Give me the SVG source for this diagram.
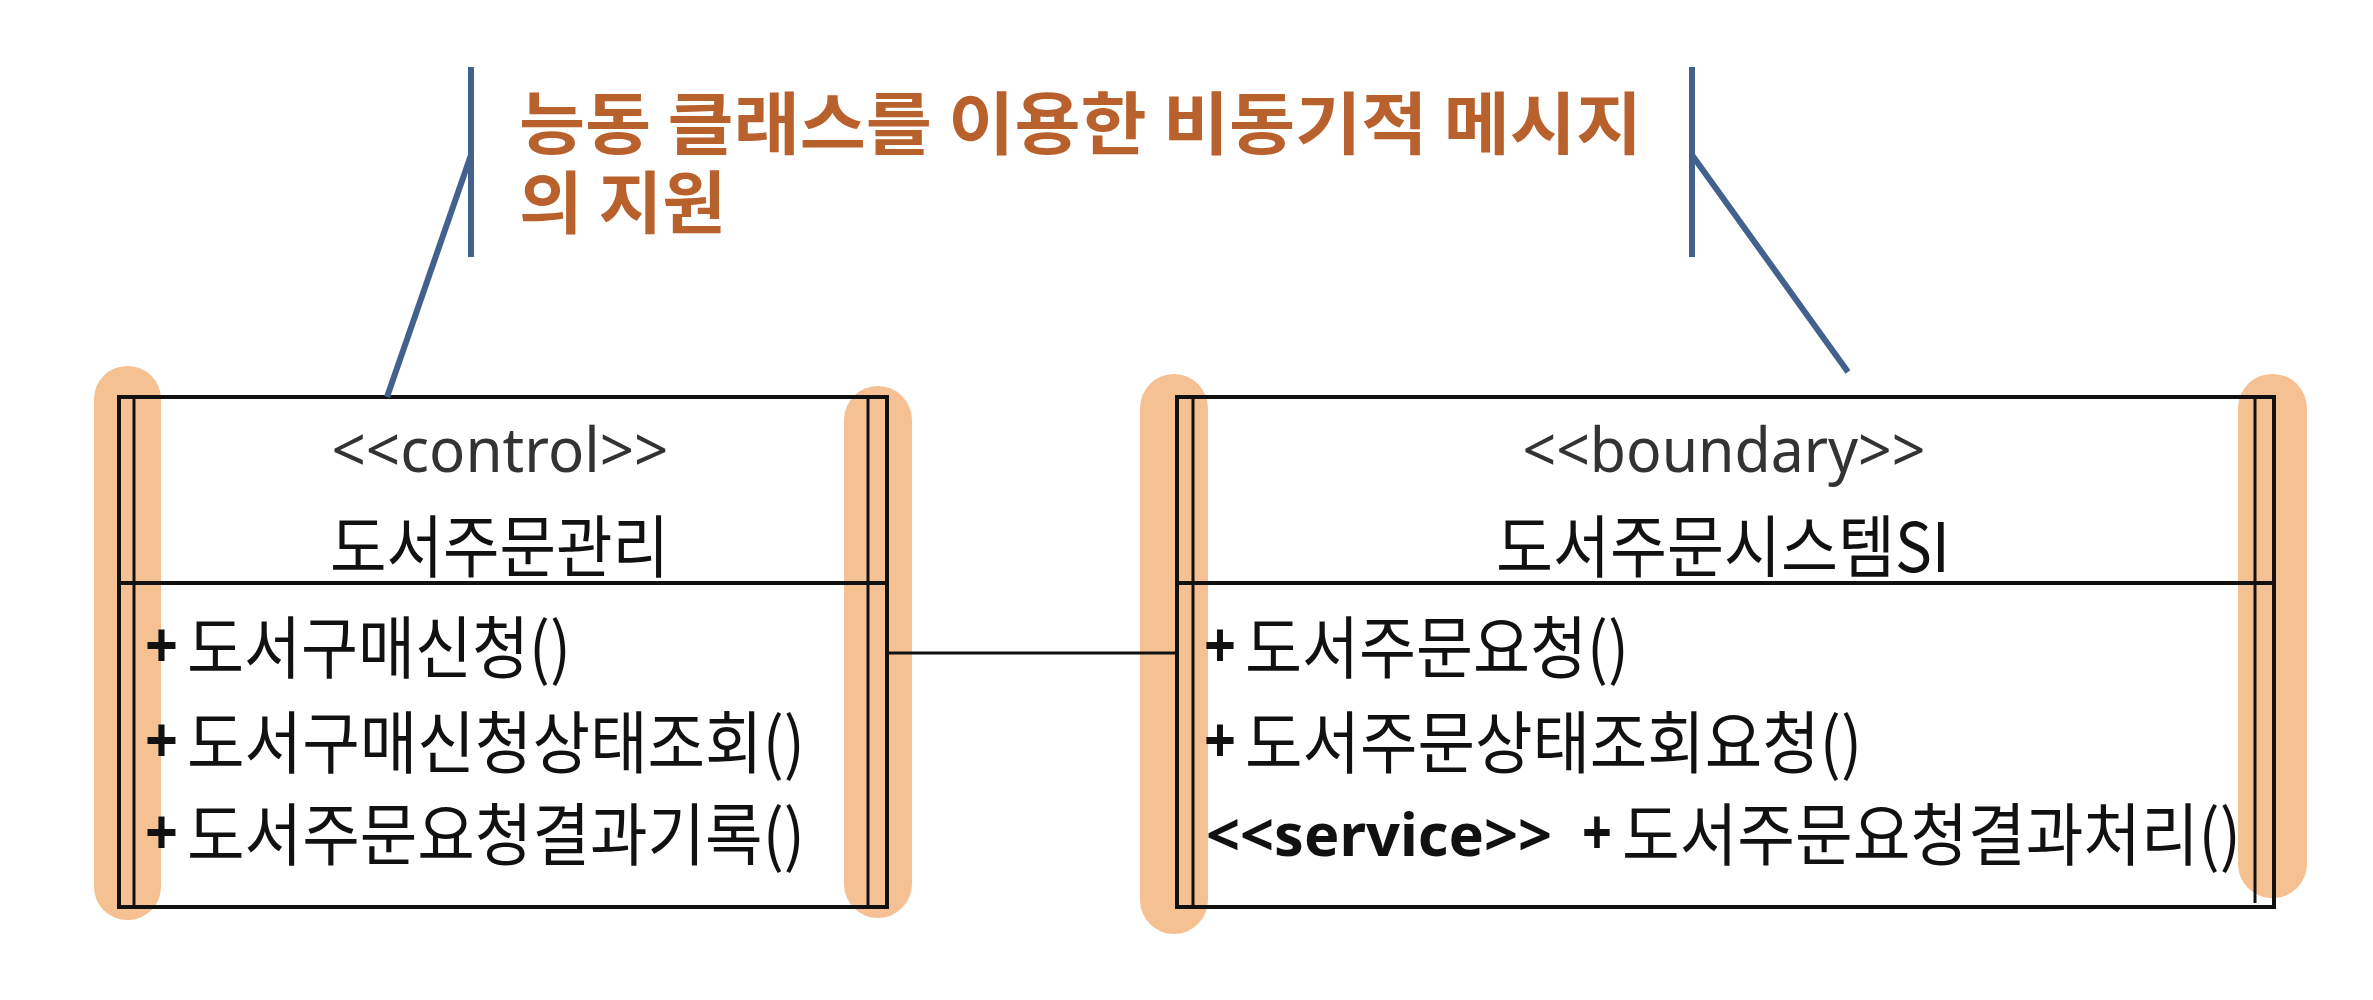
<svg xmlns="http://www.w3.org/2000/svg" width="2373" height="1000" viewBox="0 0 2373 1000">
<style>
.bg{fill:#ffffff}
.box{fill:#ffffff;stroke:none}
.hl{fill:#F5C193}
.ln{stroke:#111111;stroke-width:4;fill:none}
.ln2{stroke:#111111;stroke-width:3;fill:none}
.call{stroke:#42618C;stroke-width:6;fill:none}
.title{font-family:"Noto Sans CJK KR","Noto Sans",sans-serif;font-weight:bold;font-size:68px;fill:#B9612C}
.st{font-family:"Noto Sans","Noto Sans CJK KR",sans-serif;font-size:62px;fill:#333333;text-anchor:middle}
.nm{font-family:"Noto Sans CJK KR","Noto Sans",sans-serif;font-size:68px;fill:#111111}
.op{font-family:"Noto Sans CJK KR","Noto Sans",sans-serif;font-size:68px;fill:#111111}
.pl{font-family:"Noto Sans","Noto Sans CJK KR",sans-serif;font-size:64px;font-weight:bold;fill:#111111}
.sv{font-family:"Noto Sans","Noto Sans CJK KR",sans-serif;font-size:60px;font-weight:bold;fill:#111111}
</style>
<rect class="bg" x="0" y="0" width="2373" height="1000"/>

<g id="note">
  <line class="call" x1="471" y1="67" x2="471" y2="257"/>
  <line class="call" x1="1692" y1="67" x2="1692" y2="257"/>
  <text class="title"><tspan x="519" y="149" textLength="1123" lengthAdjust="spacingAndGlyphs">능동 클래스를 이용한 비동기적 메시지</tspan><tspan x="519" y="228" textLength="207" lengthAdjust="spacingAndGlyphs">의 지원</tspan></text>
</g>

<g id="node-control">
  <rect class="box" x="119" y="397" width="768" height="510"/>
  <rect class="hl" x="94" y="366" width="67" height="554" rx="33" ry="33"/>
  <rect class="hl" x="844" y="386" width="68" height="532" rx="34" ry="34"/>
  <rect class="ln" x="119" y="397" width="768" height="510"/>
  <line class="ln2" x1="134" y1="397" x2="134" y2="907"/>
  <line class="ln2" x1="868" y1="397" x2="868" y2="907"/>
  <line class="ln" x1="119" y1="583" x2="887" y2="583"/>
  <text class="st" x="500" y="472" textLength="337" lengthAdjust="spacingAndGlyphs">&lt;&lt;control&gt;&gt;</text>
  <text class="nm" x="330" y="572" textLength="339" lengthAdjust="spacingAndGlyphs">도서주문관리</text>
  <text class="pl" x="145" y="668" textLength="33" lengthAdjust="spacingAndGlyphs">+</text>
  <text class="op" x="187" y="673" textLength="384" lengthAdjust="spacingAndGlyphs">도서구매신청()</text>
  <text class="pl" x="145" y="763" textLength="33" lengthAdjust="spacingAndGlyphs">+</text>
  <text class="op" x="187" y="768" textLength="618" lengthAdjust="spacingAndGlyphs">도서구매신청상태조회()</text>
  <text class="pl" x="145" y="855" textLength="33" lengthAdjust="spacingAndGlyphs">+</text>
  <text class="op" x="187" y="860" textLength="618" lengthAdjust="spacingAndGlyphs">도서주문요청결과기록()</text>
</g>

<g id="node-boundary">
  <rect class="box" x="1177" y="397" width="1097" height="510"/>
  <rect class="hl" x="1140" y="374" width="68" height="560" rx="34" ry="34"/>
  <rect class="hl" x="2238" y="374" width="69" height="524" rx="34" ry="34"/>
  <rect class="ln" x="1177" y="397" width="1097" height="510"/>
  <line class="ln2" x1="1193" y1="397" x2="1193" y2="907"/>
  <line class="ln2" x1="2255" y1="397" x2="2255" y2="903"/>
  <line class="ln" x1="1177" y1="583" x2="2274" y2="583"/>
  <text class="st" x="1724" y="472" textLength="403" lengthAdjust="spacingAndGlyphs">&lt;&lt;boundary&gt;&gt;</text>
  <text class="nm" x="1496" y="572" textLength="454" lengthAdjust="spacingAndGlyphs">도서주문시스템SI</text>
  <text class="pl" x="1204" y="668" textLength="32" lengthAdjust="spacingAndGlyphs">+</text>
  <text class="op" x="1245" y="673" textLength="384" lengthAdjust="spacingAndGlyphs">도서주문요청()</text>
  <text class="pl" x="1204" y="763" textLength="32" lengthAdjust="spacingAndGlyphs">+</text>
  <text class="op" x="1245" y="768" textLength="617" lengthAdjust="spacingAndGlyphs">도서주문상태조회요청()</text>
  <text class="sv" x="1206" y="856" textLength="346" lengthAdjust="spacingAndGlyphs">&lt;&lt;service&gt;&gt;</text>
  <text class="pl" x="1582" y="855" textLength="30" lengthAdjust="spacingAndGlyphs">+</text>
  <text class="op" x="1622" y="860" textLength="619" lengthAdjust="spacingAndGlyphs">도서주문요청결과처리()</text>
</g>

<g id="connectors">
  <line class="ln2" x1="887" y1="653" x2="1177" y2="653"/>
  <line class="call" x1="471" y1="155" x2="387" y2="397"/>
  <line class="call" x1="1692" y1="155" x2="1848" y2="372"/>
</g>
</svg>
